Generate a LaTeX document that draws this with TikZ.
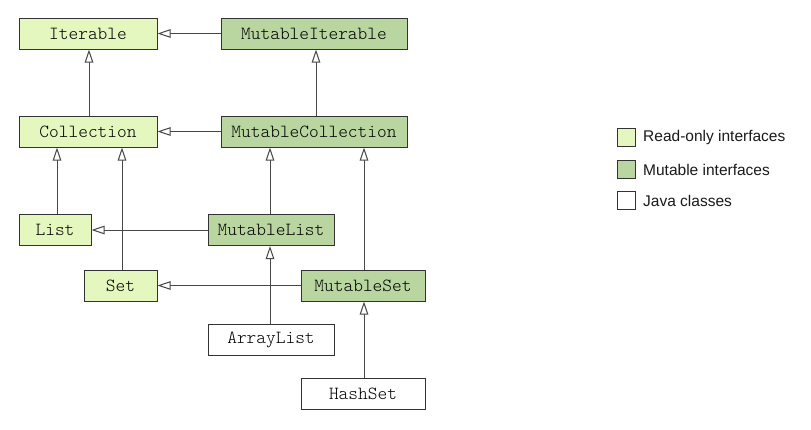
\documentclass[tikz,border=0pt]{standalone}
\usepackage{fontspec}
\setmainfont{Liberation Sans}
\newfontfamily\codefont{Latin Modern Mono Light}
\usetikzlibrary{arrows.meta}
\definecolor{ro}{HTML}{E4F7BE}
\definecolor{mu}{HTML}{B9D6A1}
\definecolor{ln}{HTML}{333333}
\tikzset{
  box/.style={draw=ln, line width=1pt, minimum height=31pt, inner sep=0pt, font=\codefont\fontsize{18.5}{18}\selectfont, text=black},
  robox/.style={box, fill=ro},
  mubox/.style={box, fill=mu},
  jbox/.style={box, fill=white},
  sw/.style={draw=ln, line width=0.9pt, minimum width=18pt, minimum height=18pt, inner sep=0pt},
  leg/.style={anchor=west, inner sep=0pt, font=\fontsize{15.5}{16}\selectfont, text=black!90},
  inh/.style={draw=ln!90, line width=1pt, -{Triangle[open, fill=white, length=13pt, width=8.5pt, line width=1pt]}}
}
\begin{document}
\begin{tikzpicture}[x=1pt, y=-1pt]
\useasboundingbox (0,0) rectangle (811,429);
\node[robox, minimum width=138pt] (it) at (88,33.5) {Iterable};
\node[mubox, minimum width=186pt] (mit) at (314,33.5) {MutableIterable};
\node[robox, minimum width=138pt] (co) at (88,131.5) {Collection};
\node[mubox, minimum width=186pt] (mco) at (314,131.5) {MutableCollection};
\node[robox, minimum width=72pt] (li) at (55,230) {List};
\node[mubox, minimum width=126pt] (mli) at (271,230) {MutableList};
\node[robox, minimum width=73pt] (se) at (120.5,285.5) {Set};
\node[mubox, minimum width=124pt] (mse) at (363,285.5) {MutableSet};
\node[jbox, minimum width=126pt] (al) at (271,339.5) {ArrayList};
\node[jbox, minimum width=124pt] (hs) at (363,394) {HashSet};

\draw[inh] (mit) -- (it);
\draw[inh] (mco) -- (co);
\draw[inh] (co.north -| 89,0) -- (it.south -| 89,0);
\draw[inh] (mco.north -| 316,0) -- (mit.south -| 316,0);
\draw[inh] (li.north -| 57,0) -- (co.south -| 57,0);
\draw[inh] (se.north -| 122,0) -- (co.south -| 122,0);
\draw[inh] (mli.north -| 270,0) -- (mco.south -| 270,0);
\draw[inh] (mse.north -| 364,0) -- (mco.south -| 364,0);
\draw[inh] (mli) -- (li);
\draw[inh] (mse) -- (se);
\draw[inh] (al.north -| 270,0) -- (mli.south -| 270,0);
\draw[inh] (hs.north -| 364,0) -- (mse.south -| 364,0);

\node[sw, fill=ro] (s1) at (626,137.5) {};
\node[sw, fill=mu] (s2) at (626,169.5) {};
\node[sw, fill=white] (s3) at (626,200.5) {};
\node[leg] (l1) at (643,137.5) {Read-only interfaces};
\node[leg] (l2) at (643,169.5) {Mutable interfaces};
\node[leg] (l3) at (643,200.5) {Java classes};
\end{tikzpicture}
\end{document}
